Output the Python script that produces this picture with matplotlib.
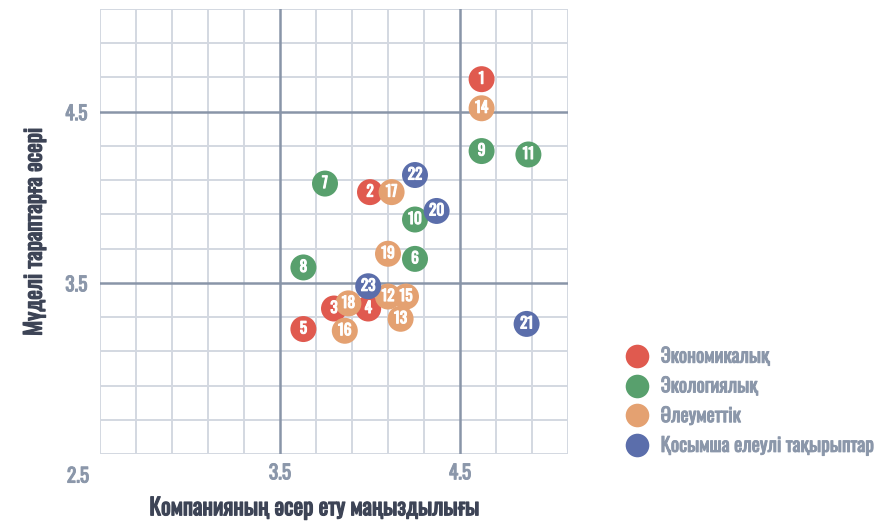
import matplotlib
matplotlib.use("Agg")
import matplotlib.pyplot as plt
import matplotlib.patheffects as pe
import numpy as np
from matplotlib.lines import Line2D

ids = [1, 2, 3, 4, 5, 6, 7, 8, 9, 10, 11, 12, 13, 14, 15, 16, 17, 18, 19, 20, 21, 22, 23]
xs = [4.62, 4.00, 3.80, 3.99, 3.63, 4.25, 3.75, 3.63, 4.62, 4.25, 4.88, 4.10, 4.17, 4.62, 4.20, 3.86, 4.12, 3.88, 4.10, 4.37, 4.87, 4.25, 3.99]
ys = [4.69, 4.03, 3.35, 3.35, 3.23, 3.64, 4.08, 3.59, 4.27, 3.87, 4.25, 3.42, 3.29, 4.52, 3.42, 3.22, 4.03, 3.38, 3.67, 3.92, 3.26, 4.13, 3.48]
groups = [0, 0, 0, 0, 0, 1, 1, 1, 1, 1, 1, 2, 2, 2, 2, 2, 2, 2, 2, 3, 3, 3, 3]
group_names = ["Экономикалық", "Экологиялық", "Әлеуметтік", "Қосымша елеулі тақырыптар"]
group_colors = ["#e05a4f", "#58a06d", "#e4a171", "#5b6eab"]

FONT = ["Oswald", "Open Sans", "DejaVu Sans"]
TICK_C = "#8b97aa"
LAB_C = "#3d4456"

def bold(color, w=0.7):
    return [pe.withStroke(linewidth=w, foreground=color)]

fig = plt.figure(figsize=(8.82, 5.21), dpi=100)
ax = fig.add_axes([100/882, 1-454/521, 468/882, 445/521])
ax.set_xlim(2.5, 5.1)
ax.set_ylim(2.5, 5.1)

minor = np.round(np.arange(2.5, 5.11, 0.2), 2)
for v in minor:
    if abs(v - 3.5) < 1e-6 or abs(v - 4.5) < 1e-6:
        continue
    ax.axvline(v, color="#d3d8e1", lw=1.4, zorder=0)
    ax.axhline(v, color="#d3d8e1", lw=1.4, zorder=0)
for v in [3.5, 4.5]:
    ax.axvline(v, color="#8995a8", lw=1.8, zorder=1)
    ax.axhline(v, color="#8995a8", lw=1.8, zorder=1)

for s in ax.spines.values():
    s.set_visible(False)
ax.set_xticks([3.5, 4.5])
ax.set_yticks([3.5, 4.5])
ax.set_xticklabels(["3.5", "4.5"])
ax.set_yticklabels(["3.5", "4.5"])
ax.tick_params(axis="x", length=0, labelsize=14, labelcolor=TICK_C, pad=6)
ax.tick_params(axis="y", length=0, labelsize=14, labelcolor=TICK_C, pad=9)
for lab in ax.get_xticklabels() + ax.get_yticklabels():
    lab.set_family(FONT)
    lab.set_path_effects(bold(TICK_C))
ax.text(-0.047, -0.026, "2.5", transform=ax.transAxes, ha="center", va="top",
        fontsize=14, color=TICK_C, family=FONT, path_effects=bold(TICK_C))

cols = [group_colors[g] for g in groups]
ax.scatter(xs, ys, s=350, c=cols, edgecolors="none", zorder=3, clip_on=False)
for i, x, y in zip(ids, xs, ys):
    ax.text(x, y, str(i), ha="center", va="center", color="white", fontsize=11,
            family=FONT, zorder=4, path_effects=bold("white", 0.8))

ax.set_xlabel("Компанияның әсер ету маңыздылығы", fontsize=16.5,
              color=LAB_C, family=FONT, path_effects=bold(LAB_C, 0.9))
ax.xaxis.set_label_coords((315 - 100) / 468, -0.095)
ax.set_ylabel("Мүделі тараптарға әсері", fontsize=16.5,
              color=LAB_C, family=FONT, labelpad=14, path_effects=bold(LAB_C, 0.9))

handles = [Line2D([0], [0], marker="o", linestyle="none", markersize=17,
                  markerfacecolor=c, markeredgecolor="none") for c in group_colors]
leg = fig.legend(handles, group_names, loc="upper left", bbox_to_anchor=(614/882, 1-336/521),
                 frameon=False, handletextpad=0.5, labelspacing=0.5, borderpad=0,
                 handlelength=1.4, prop={"family": FONT, "size": 14})
for t in leg.get_texts():
    t.set_color(TICK_C)
    t.set_path_effects(bold(TICK_C))

fig.savefig("out.png", dpi=100)
